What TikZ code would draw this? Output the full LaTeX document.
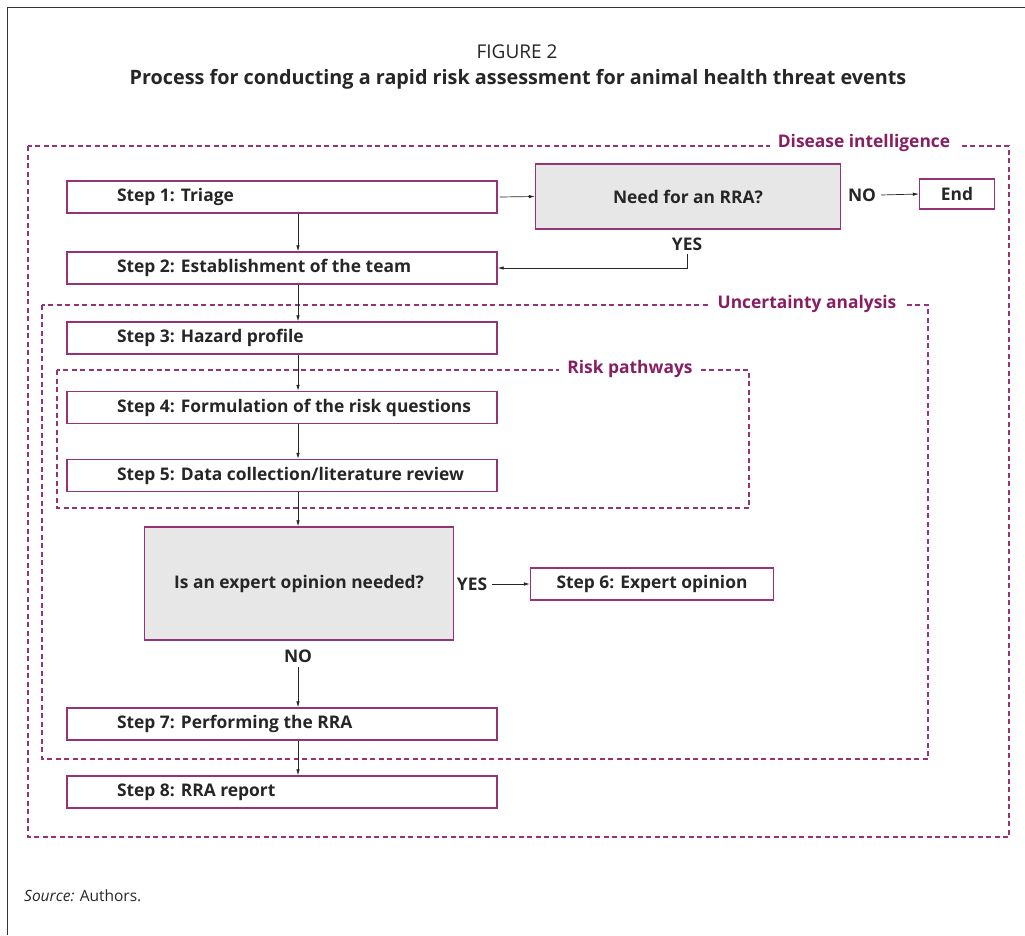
\documentclass[tikz,border=0pt]{standalone}
\usepackage{fontspec}
\setmainfont{Open Sans}
\usetikzlibrary{arrows.meta}
\definecolor{boxpurple}{RGB}{150,50,120}
\definecolor{lblpurple}{RGB}{135,30,100}
\definecolor{decgray}{RGB}{231,231,231}
\newcommand{\stxt}[1]{\makebox[430pt][l]{\hspace{50pt}#1}}
\begin{document}
\begin{tikzpicture}[x=1pt,y=-1pt,
  boxfont/.style={font=\bfseries\fontsize{17.4}{20}\selectfont},
  stepbox/.style={draw=boxpurple, line width=1.3pt, minimum width=430pt, minimum height=32pt, inner sep=0pt, text=black!85, boxfont},
  decbox/.style={draw=boxpurple, fill=decgray, line width=1.3pt, inner sep=0pt, text=black!85, boxfont},
  smallbox/.style={draw=boxpurple, line width=1.3pt, inner sep=0pt, text=black!85, boxfont},
  lbl/.style={inner xsep=5pt, inner ysep=1pt, text=black!85, boxfont},
  grp/.style={draw=boxpurple, line width=1.1pt, dash pattern=on 5pt off 3.5pt},
  grplbl/.style={fill=white, text=lblpurple, inner xsep=8pt, inner ysep=2pt, boxfont},
  arr/.style={-{Latex[length=6pt,width=3.5pt]}, line width=0.7pt, black!85}]
\useasboundingbox (0,0) rectangle (1025,935);
\draw[line width=1pt, black!80] (7,935) -- (7,7) -- (1025,7);

\node[font=\fontsize{19}{22}\selectfont, text=black!85] (fig) at (517,52) {FIGURE 2};
\node[font=\bfseries\fontsize{19.8}{23}\selectfont, text=black!85] (title) at (518,79) {Process for conducting a rapid risk assessment for animal health threat events};

% groups
\draw[grp] (28,146) rectangle (1009,837);
\node[grplbl] (gdi) at (864,143) {Disease intelligence};
\draw[grp] (42,305) rectangle (928,759);
\node[grplbl] (gua) at (807,304) {Uncertainty analysis};
\draw[grp] (57,370) rectangle (749,508);
\node[grplbl] (grp) at (630,369) {Risk pathways};

% steps
\node[stepbox] (s1) at (282,197) {\stxt{Step 1: Triage}};
\node[decbox, minimum width=305pt, minimum height=65pt] (need) at (688,196.5) {Need for an RRA?};
\node[lbl] (no1) at (862,195) {NO};
\node[smallbox, minimum width=75pt, minimum height=30pt] (end) at (957,194) {End};
\node[lbl] (yes1) at (687,244) {YES};
\node[stepbox] (s2) at (282,268) {\stxt{Step 2: Establishment of the team}};
\node[stepbox] (s3) at (282,338) {\stxt{Step 3: Hazard profile}};
\node[stepbox] (s4) at (282,407.5) {\stxt{Step 4: Formulation of the risk questions}};
\node[stepbox] (s5) at (282,475.5) {\stxt{Step 5: Data collection/literature review}};
\node[decbox, minimum width=309pt, minimum height=113pt] (exp) at (299,583.5) {Is an expert opinion needed?};
\node[lbl] (yes2) at (472,584) {YES};
\node[smallbox, minimum width=243pt, minimum height=32pt] (s6) at (652,584) {Step 6: Expert opinion};
\node[lbl] (no2) at (298,656) {NO};
\node[stepbox] (s7) at (282,724) {\stxt{Step 7: Performing the RRA}};
\node[stepbox] (s8) at (282,792) {\stxt{Step 8: RRA report}};

\node[anchor=west, inner sep=0pt, font=\fontsize{15.5}{18}\selectfont, text=black!85] (src) at (24,896) {\textit{Source:} Authors.};

% connectors
\draw[arr] ([xshift=2pt]s1.east) -- (need.west);
\draw[arr] (no1.east) -- (end.west);
\draw[arr] ([yshift=-2pt]yes1.south) |- (s2.east);
\draw[arr] ([xshift=16pt]s1.south) -- ([xshift=16pt]s2.north);
\draw[arr] ([xshift=16pt]s2.south) -- ([xshift=16pt]s3.north);
\draw[arr] ([xshift=16pt]s3.south) -- ([xshift=16pt]s4.north);
\draw[arr] ([xshift=16pt]s4.south) -- ([xshift=16pt]s5.north);
\draw[arr] ([xshift=16pt]s5.south) -- ([xshift=16pt]s5.south |- exp.north);
\draw[arr] (yes2.east) -- (s6.west);
\draw[arr] ([yshift=-3pt]no2.south) -- (no2.south |- s7.north);
\draw[arr] ([xshift=16pt]s7.south) -- ([xshift=16pt]s8.north);
\end{tikzpicture}
\end{document}
